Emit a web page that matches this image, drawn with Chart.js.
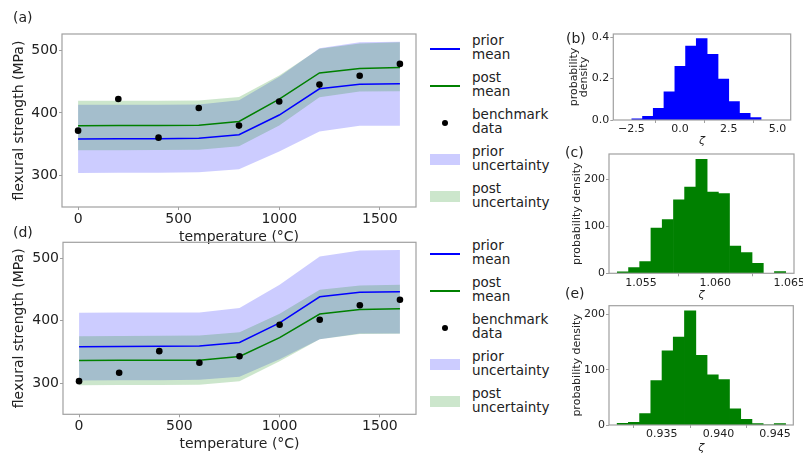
<!DOCTYPE html>
<html>
<head>
<meta charset="utf-8">
<script src="https://cdn.jsdelivr.net/npm/chart.js@4.4.1/dist/chart.umd.min.js"></script>
<style>
  body { margin: 0; background: #fff; }
  #fig { position: relative; width: 803px; height: 457px; overflow: hidden; font-family: 'DejaVu Sans', sans-serif; color: #222; }
  canvas, .lbl, .legend { position: absolute; }
  .lbl { font-size: 14px; line-height: 16px; }
  .legend { left: 430px; font-size: 13.5px; line-height: 13.5px; }
  .item { height: 37px; display: flex; align-items: center; }
  .mark { width: 30px; margin-right: 12px; display: flex; justify-content: center; align-items: center; }
  .txt { position: relative; top: -1px; }
</style>
</head>
<body>
<div id="fig">
  <canvas id="cA" width="420" height="250" style="left:0;top:0"></canvas>
  <canvas id="cD" width="420" height="249" style="left:0;top:208px"></canvas>
  <canvas id="cB" width="243" height="130" style="left:560px;top:20px"></canvas>
  <canvas id="cC" width="243" height="160" style="left:560px;top:145px"></canvas>
  <canvas id="cE" width="243" height="162" style="left:560px;top:295px"></canvas>
  <div class="lbl" style="left:13px;top:9px">(a)</div>
  <div class="lbl" style="left:13px;top:224px">(d)</div>
  <div class="lbl" style="left:566px;top:30px">(b)</div>
  <div class="lbl" style="left:565px;top:144px">(c)</div>
  <div class="lbl" style="left:565px;top:285px">(e)</div>
  <div class="legend" id="legA" style="top:30px"></div>
  <div class="legend" id="legD" style="top:235px"></div>
</div>
<script>
// strength vs temperature, panels (a) and (d)
const temps = [0, 200, 400, 600, 800, 1000, 1200, 1400, 1600];
const tempTicks = [0, 500, 1000, 1500];
const strengthTicks = [300, 400, 500];

const priorMean = [358.5, 358.7, 359.0, 359.5, 365.3, 396.7, 438.5, 445.7, 446.8];
const priorHi = [413.0, 413.2, 413.3, 413.4, 420.4, 457.9, 503.4, 512.8, 513.8];
const priorLo = [304.3, 304.5, 304.8, 305.3, 310.3, 338.4, 370.6, 379.5, 379.8];

const postMeanA = [379.8, 380.0, 380.1, 380.3, 386.5, 422.0, 463.9, 471.0, 472.4];
const postHiA = [419.7, 419.7, 419.7, 419.8, 425.6, 459.8, 502.5, 511.0, 513.0];
const postLoA = [340.4, 340.7, 341.0, 341.5, 346.9, 379.9, 425.0, 434.2, 434.6];
const benchA = [371.8, 422.3, 360.6, 408.0, 379.9, 418.2, 445.3, 459.5, 478.3];

const postMeanD = [336.4, 336.6, 336.8, 336.9, 342.7, 373.0, 410.8, 418.0, 419.4];
const postHiD = [375.4, 375.8, 376.2, 376.5, 381.5, 411.5, 449.8, 456.5, 457.9];
const postLoD = [296.8, 297.0, 297.2, 297.3, 303.2, 335.0, 370.6, 378.8, 379.3];
const benchD = [303.2, 316.6, 351.3, 332.6, 343.2, 393.8, 401.8, 425.0, 433.8];

const legendLabels = [['prior', 'mean'], ['post', 'mean'], ['benchmark', 'data'], ['prior', 'uncertainty'], ['post', 'uncertainty']];

// histograms of zeta, panels (b), (c), (e)
const zetaB = [-2.20, -1.65, -1.10, -0.55, 0.01, 0.56, 1.11, 1.67, 2.22, 2.77, 3.32, 3.88];
const densB = [0.005, 0.017, 0.056, 0.135, 0.259, 0.356, 0.392, 0.316, 0.197, 0.089, 0.032, 0.011];
const zetaBTicks = [-2.5, 0, 2.5, 5];
const densBTicks = [0, 0.2, 0.4];

const zetaC = [1.05378, 1.05454, 1.05529, 1.05605, 1.05681, 1.05757, 1.05832, 1.05908, 1.05984, 1.06059, 1.06135, 1.06211, 1.06287, 1.06362, 1.06438];
const densC = [2.8, 12, 25, 95.8, 114, 156, 183, 242, 172.5, 169, 57.7, 43.7, 21, 0, 3.5];
const zetaCTicks = [1.055, 1.060, 1.065];

const zetaE = [0.93157, 0.93256, 0.93355, 0.93454, 0.93553, 0.93652, 0.93751, 0.93850, 0.93949, 0.94048, 0.94147, 0.94246, 0.94345, 0.94444, 0.94543];
const densE = [3, 4.8, 20.4, 80, 134, 158.7, 206, 126, 90.4, 82, 29.3, 10, 2.4, 0, 2.4];
const zetaETicks = [0.935, 0.940, 0.945];
const densCETicks = [0, 100, 200];

const $ = (id) => document.getElementById(id);
const INK = '#222';
const SPINE = '#a0a0a0';
const fmt = (d) => (v) => v.toFixed(d).replace('-', '\u2212');

Chart.defaults.font.family = "'DejaVu Sans', sans-serif";
Chart.defaults.color = INK;

const framePlugin = {
  id: 'frame',
  afterDatasetsDraw(chart) {
    const { ctx, chartArea: a } = chart;
    ctx.save();
    ctx.strokeStyle = SPINE;
    ctx.lineWidth = 1.2;
    ctx.strokeRect(a.left, a.top, a.right - a.left, a.bottom - a.top);
    ctx.restore();
  }
};

function axis(o) {
  return {
    type: 'linear',
    min: o.min,
    max: o.max,
    offset: false,
    afterBuildTicks: s => { s.ticks = o.ticks.map(v => ({ value: v })); },
    afterFit: s => {
      if (o.w) s.width = o.w;
      if (o.h) s.height = o.h;
      s.paddingLeft = s.paddingRight = s.paddingTop = s.paddingBottom = 0;
    },
    grid: { drawOnChartArea: false, tickLength: 3, color: SPINE },
    border: { display: false },
    ticks: { autoSkip: false, maxRotation: 0, padding: o.pad, color: INK, font: { size: o.size }, callback: o.fmt },
    title: { display: true, text: o.title, color: INK, font: { size: o.size, style: o.italic ? 'italic' : 'normal', lineHeight: o.lh || 1.2 }, padding: o.tpad }
  };
}

function strengthChart(id, mean, hi, lo, bench, box) {
  const pts = (arr) => temps.map((t, i) => ({ x: t, y: arr[i] }));
  const band = { borderColor: 'transparent', pointRadius: 0 };
  return new Chart($(id), {
    type: 'line',
    data: {
      datasets: [
        { ...band, label: 'prior uncertainty', data: pts(priorHi), fill: '+1', backgroundColor: 'rgba(0,0,255,0.2)', order: 4 },
        { ...band, data: pts(priorLo), fill: false, order: 4 },
        { ...band, label: 'post uncertainty', data: pts(hi), fill: '+1', backgroundColor: 'rgba(0,128,0,0.2)', order: 3 },
        { ...band, data: pts(lo), fill: false, order: 3 },
        { label: 'prior mean', data: pts(priorMean), borderColor: '#0000ff', borderWidth: 1.5, pointRadius: 0, fill: false, order: 2 },
        { label: 'post mean', data: pts(mean), borderColor: '#008000', borderWidth: 1.5, pointRadius: 0, fill: false, order: 1 },
        { label: 'benchmark data', data: pts(bench), showLine: false, pointRadius: 3.3, pointBackgroundColor: '#000', pointBorderWidth: 0, order: 0 }
      ]
    },
    options: {
      responsive: false,
      animation: false,
      layout: { padding: { top: box.top, right: 2, left: 0, bottom: 0 } },
      plugins: { legend: { display: false }, tooltip: { enabled: false } },
      elements: { line: { tension: 0 } },
      scales: {
        x: axis({ min: -80, max: 1680, ticks: tempTicks, h: box.xh, size: 14, pad: 0.5, fmt: v => String(v), title: 'temperature (°C)', tpad: { top: 0, bottom: 4 } }),
        y: axis({ min: 250, max: 526, ticks: strengthTicks, w: box.yw, size: 14, pad: 1, fmt: v => String(v), title: 'flexural strength (MPa)', tpad: { top: 10.6, bottom: 0 } })
      }
    },
    plugins: [framePlugin]
  });
}

function histChart(id, xs, ys, color, o) {
  return new Chart($(id), {
    type: 'bar',
    data: {
      datasets: [{ data: xs.map((x, i) => ({ x, y: ys[i] })), backgroundColor: color, borderWidth: 0, inflateAmount: 0.4, barPercentage: 1, categoryPercentage: 1 }]
    },
    options: {
      responsive: false,
      animation: false,
      layout: { padding: { top: o.top, right: o.right, left: 0, bottom: 0 } },
      plugins: { legend: { display: false }, tooltip: { enabled: false } },
      scales: {
        x: axis({ min: o.xmin, max: o.xmax, ticks: o.xticks, h: o.xh, size: 11, pad: 0, fmt: fmt(o.xd), title: 'ζ', italic: true, tpad: { top: 0, bottom: o.tb } }),
        y: axis({ min: 0, max: o.ymax, ticks: o.yticks, w: o.yw, size: 11, pad: 1, fmt: fmt(o.yd), title: o.ylabel, lh: o.lh, tpad: { top: o.tl, bottom: 0 } })
      }
    },
    plugins: [framePlugin]
  });
}

function buildLegend(id) {
  const marks = [
    '<div style="width:30px;height:2px;background:#0000ff"></div>',
    '<div style="width:30px;height:2px;background:#008000"></div>',
    '<div style="width:6px;height:6px;border-radius:50%;background:#000"></div>',
    '<div style="width:30px;height:11px;background:rgba(0,0,255,0.2)"></div>',
    '<div style="width:30px;height:11px;background:rgba(0,128,0,0.2)"></div>'
  ];
  $(id).innerHTML = legendLabels.map((l, i) => `
    <div class="item"><div class="mark">${marks[i]}</div><div class="txt">${l.join('<br>')}</div></div>
  `).join('');
}

strengthChart('cA', postMeanA, postHiA, postLoA, benchA, { top: 34, xh: 43, yw: 62 });
strengthChart('cD', postMeanD, postHiD, postLoD, benchD, { top: 34.3, xh: 42.7, yw: 63 });

histChart('cB', zetaB, densB, '#0000ff', {
  top: 14, right: 12.3, xh: 30, yw: 53.3, xmin: -3.43, xmax: 5.68, ymax: 0.415,
  xticks: zetaBTicks, yticks: densBTicks, xd: 1, yd: 1, ylabel: ['probability', 'density'], lh: 0.95, tl: 8.8, tb: 2.4
});
histChart('cC', zetaC, densC, '#008000', {
  top: 9, right: 9, xh: 31.7, yw: 49, xmin: 1.05284, xmax: 1.06532, ymax: 253.5,
  xticks: zetaCTicks, yticks: densCETicks, xd: 3, yd: 0, ylabel: 'probability density', tl: 10.9, tb: 3.4
});
histChart('cE', zetaE, densE, '#008000', {
  top: 10.7, right: 9.7, xh: 32, yw: 49, xmin: 0.93035, xmax: 0.94661, ymax: 215.6,
  xticks: zetaETicks, yticks: densCETicks, xd: 3, yd: 0, ylabel: 'probability density', tl: 10.9, tb: 2.4
});

buildLegend('legA');
buildLegend('legD');
</script>
</body>
</html>
